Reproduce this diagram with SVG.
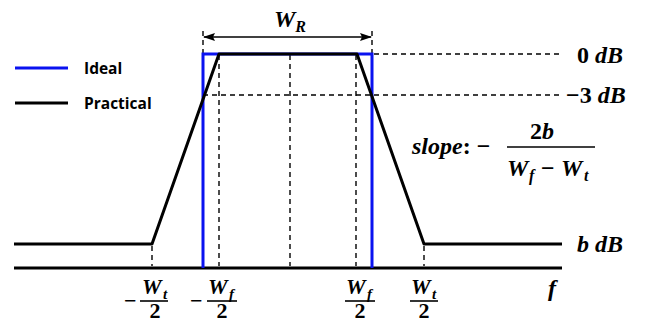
<svg xmlns="http://www.w3.org/2000/svg" width="645" height="323" viewBox="0 0 645 323">
<defs>
<marker id="ah" viewBox="0 0 12 10" refX="11" refY="5" markerWidth="12" markerHeight="10" markerUnits="userSpaceOnUse" orient="auto-start-reverse">
<path d="M0,1 L12,5 L0,9 L2,5 z" fill="#000"/>
</marker>
</defs>
<style>
.solid{stroke:#000;stroke-width:3;fill:none;stroke-linejoin:round}
.blue{stroke:#0a12f0;stroke-width:3;fill:none}
.dash{stroke:#000;stroke-width:1.4;stroke-dasharray:5 4;fill:none}
.m{font-family:"Liberation Serif",serif;font-weight:bold;font-style:italic;font-size:24px;fill:#000}
.n{font-family:"Liberation Serif",serif;font-weight:bold;font-style:normal;font-size:24px;fill:#000}
.sub{font-size:16px}
.t{font-size:22px}
.ts{font-size:15px}
.leg{font-family:"Open Sans","Liberation Sans",sans-serif;font-weight:700;font-size:15.5px;fill:#000}
.bar{stroke:#000;stroke-width:1.6}
</style>
<rect width="645" height="323" fill="#fff"/>
<g id="legend">
<line x1="15" y1="68" x2="68" y2="68" class="blue"/>
<text x="84" y="74" class="leg">Ideal</text>
<line x1="15" y1="103" x2="68" y2="103" class="solid"/>
<text x="84" y="109" class="leg">Practical</text>
</g>
<g id="guides">
<line x1="203" y1="31" x2="203" y2="53" class="dash"/>
<line x1="372" y1="31" x2="372" y2="53" class="dash"/>
<line x1="219" y1="55" x2="219" y2="266" class="dash"/>
<line x1="290" y1="55" x2="290" y2="266" class="dash"/>
<line x1="356" y1="55" x2="356" y2="266" class="dash"/>
<line x1="152" y1="246" x2="152" y2="266" class="dash"/>
<line x1="424" y1="246" x2="424" y2="266" class="dash"/>
<line x1="374" y1="54" x2="562" y2="54" class="dash"/>
<line x1="203" y1="95" x2="562" y2="95" class="dash"/>
</g>
<g id="connectors">
<line x1="204" y1="37" x2="371" y2="37" stroke="#000" stroke-width="1.5" marker-start="url(#ah)" marker-end="url(#ah)"/>
</g>
<g id="axis">
<line x1="14" y1="268" x2="562" y2="268" class="solid"/>
</g>
<g id="ideal">
<polyline points="203,268 203,54 372,54 372,268" class="blue"/>
</g>
<g id="practical">
<polyline points="14,244 152,244 219,54 357,54 424,244 562,244" class="solid"/>
</g>
<g id="labels">
<text x="274" y="27" class="m">W<tspan class="sub" dy="5">R</tspan></text>
<text x="577" y="63" class="n">0 <tspan class="m">dB</tspan></text>
<text x="566" y="103" class="n">−3 <tspan class="m">dB</tspan></text>
<text x="577" y="252" class="m">b dB</text>
<text x="548" y="296" class="m">f</text>
<text x="412" y="154" class="m">slope<tspan class="n">: −</tspan></text>
<text x="542" y="139" class="n" text-anchor="middle">2<tspan class="m">b</tspan></text>
<line x1="507" y1="147" x2="595" y2="147" class="bar"/>
<text x="507" y="176" class="m">W</text>
<text x="529" y="181" class="m sub">f</text>
<text x="541" y="176" class="n">−</text>
<text x="561" y="176" class="m">W</text>
<text x="584" y="181" class="m sub">t</text>
</g>
<g id="ticks">
<text x="124" y="308" class="n t">−</text>
<text x="142" y="294" class="m t">W</text>
<text x="163" y="299" class="m ts">t</text>
<line x1="140" y1="301" x2="168" y2="301" class="bar"/>
<text x="155" y="318" class="n t" text-anchor="middle">2</text>
<text x="190" y="308" class="n t">−</text>
<text x="208" y="294" class="m t">W</text>
<text x="229" y="299" class="m ts">f</text>
<line x1="207" y1="301" x2="237" y2="301" class="bar"/>
<text x="222" y="318" class="n t" text-anchor="middle">2</text>
<text x="346" y="294" class="m t">W</text>
<text x="367" y="299" class="m ts">f</text>
<line x1="345" y1="301" x2="375" y2="301" class="bar"/>
<text x="360" y="318" class="n t" text-anchor="middle">2</text>
<text x="411" y="294" class="m t">W</text>
<text x="432" y="299" class="m ts">t</text>
<line x1="410" y1="301" x2="438" y2="301" class="bar"/>
<text x="424" y="318" class="n t" text-anchor="middle">2</text>
</g>
</svg>
